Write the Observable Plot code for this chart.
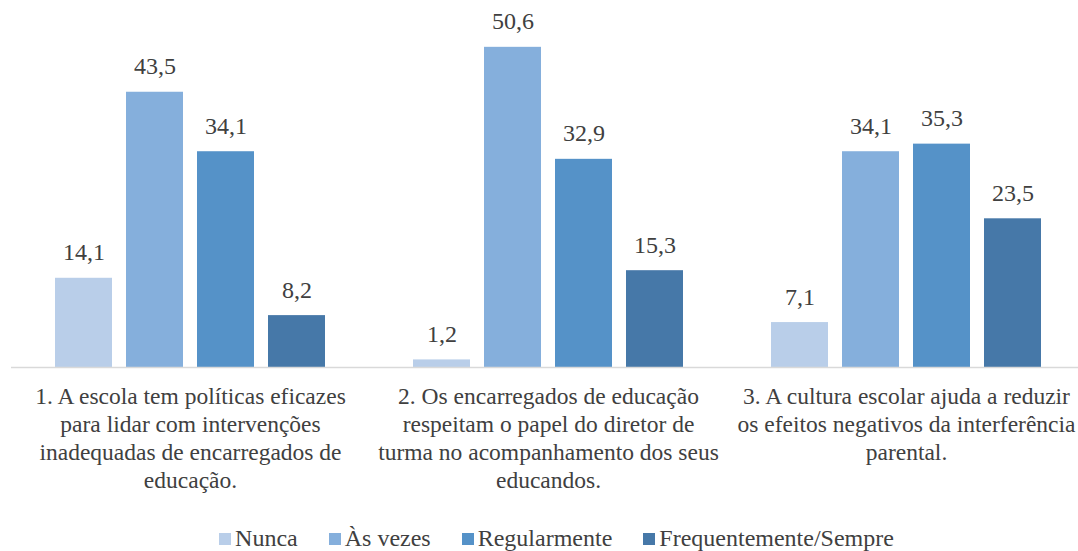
<!DOCTYPE html>
<html><head><meta charset="utf-8">
<script src="https://cdn.jsdelivr.net/npm/d3@7"></script>
<script src="https://cdn.jsdelivr.net/npm/@observablehq/plot@0.6"></script>
<style>
body{margin:0;background:#fff;font-family:"Liberation Serif","Times New Roman",serif;}
#legend{display:flex;justify-content:center;gap:31px;font-size:24px;color:#404040;margin-top:15px;padding-left:35px}
#legend span.item{display:flex;align-items:center}
#legend span.sw{display:inline-block;width:12px;height:12px;margin-right:4px}
</style></head>
<body><div id="chart"></div><div id="legend"></div>
<script>
const questions = [
  "1. A escola tem políticas eficazes\npara lidar com intervenções\ninadequadas de encarregados de\neducação.",
  "2. Os encarregados de educação\nrespeitam o papel do diretor de\nturma no acompanhamento dos seus\neducandos.",
  "3. A cultura escolar ajuda a reduzir\nos efeitos negativos da interferência\nparental."
];
const series = ["Nunca", "Às vezes", "Regularmente", "Frequentemente/Sempre"];
const colors = ["#B9CEE9", "#85AFDC", "#5592C8", "#4678A8"];
const nunca = [14.1, 1.2, 7.1];
const asVezes = [43.5, 50.6, 34.1];
const regularmente = [34.1, 32.9, 35.3];
const frequentemente = [8.2, 15.3, 23.5];

const cols = [nunca, asVezes, regularmente, frequentemente];
const data = [];
questions.forEach((q, i) => series.forEach((s, j) => data.push({q, s, v: cols[j][i]})));
const fmt = v => v.toFixed(1).replace(".", ",");
const FONT = "Liberation Serif";

const plot = Plot.plot({
  width: 1078, height: 510,
  marginTop: 0, marginBottom: 143, marginLeft: 10, marginRight: 0,
  style: {fontFamily: FONT, color: "#404040", background: "#fff"},
  fx: {domain: questions, range: [10, 1086], padding: 0, label: null},
  x: {domain: series, paddingInner: 0.194, paddingOuter: 0.59, axis: null},
  y: {domain: [0, 58], axis: null},
  color: {domain: series, range: colors},
  marks: [
    Plot.barY(data, {fx: "q", x: "s", y: "v", fill: "s"}),
    Plot.ruleY([0], {stroke: "#D9D9D9", strokeWidth: 1.5}),
    Plot.text(data, {fx: "q", x: "s", y: "v", text: d => fmt(d.v), dy: -18, lineAnchor: "bottom", fontSize: 24, fontFamily: FONT, fill: "#404040"}),
    Plot.axisFx({anchor: "bottom", tickSize: 0, tickPadding: 16.5, fontSize: 23.5, fontFamily: FONT, lineHeight: 1.19, fill: "#404040", label: null})
  ]
});
document.getElementById("chart").appendChild(plot);

const lg = document.getElementById("legend");
series.forEach((s, j) => {
  const it = document.createElement("span"); it.className = "item";
  const sw = document.createElement("span"); sw.className = "sw"; sw.style.background = colors[j];
  it.appendChild(sw); it.appendChild(document.createTextNode(s)); lg.appendChild(it);
});
</script></body></html>
